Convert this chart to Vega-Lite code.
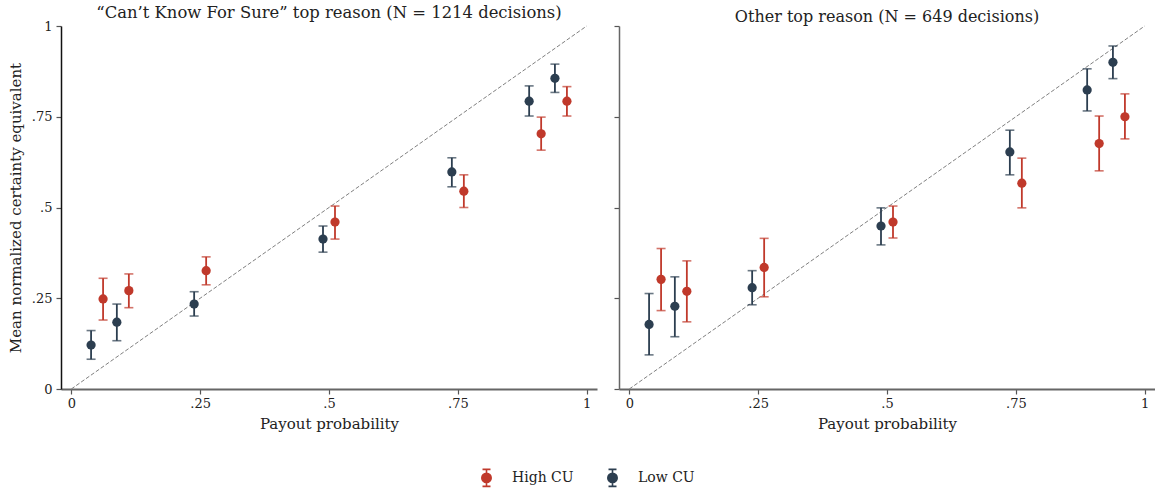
{
  "$schema": "https://vega.github.io/schema/vega-lite/v6.json",
  "padding": {"left": 8, "top": 4, "right": 0, "bottom": 0},
  "config": {
    "font": "DejaVu Serif",
    "view": {"stroke": null},
    "axis": {
      "grid": false,
      "domainColor": "#555",
      "domainWidth": 1.5,
      "tickColor": "#555",
      "tickSize": 5,
      "tickWidth": 1.2,
      "labelFont": "DejaVu Serif",
      "labelFontSize": 13,
      "labelColor": "#222",
      "labelPadding": 3,
      "titleFont": "DejaVu Serif",
      "titleFontSize": 15,
      "titleFontWeight": "normal",
      "titleColor": "#222"
    },
    "title": {"font": "DejaVu Serif", "fontSize": 16, "fontWeight": "normal", "color": "#222", "offset": -1, "anchor": "middle"},
    "legend": {
      "labelFont": "DejaVu Serif",
      "labelFontSize": 14,
      "labelColor": "#222",
      "padding": 0
    }
  },
  "datasets": {
    "pts": [
      {"panel": "A", "group": "Low CU", "p": 0.05, "m": 0.121, "lo": 0.082, "hi": 0.161},
      {"panel": "A", "group": "Low CU", "p": 0.10, "m": 0.184, "lo": 0.133, "hi": 0.234},
      {"panel": "A", "group": "Low CU", "p": 0.25, "m": 0.234, "lo": 0.201, "hi": 0.268},
      {"panel": "A", "group": "Low CU", "p": 0.50, "m": 0.413, "lo": 0.377, "hi": 0.449},
      {"panel": "A", "group": "Low CU", "p": 0.75, "m": 0.598, "lo": 0.557, "hi": 0.637},
      {"panel": "A", "group": "Low CU", "p": 0.90, "m": 0.793, "lo": 0.752, "hi": 0.835},
      {"panel": "A", "group": "Low CU", "p": 0.95, "m": 0.856, "lo": 0.817, "hi": 0.895},
      {"panel": "A", "group": "High CU", "p": 0.05, "m": 0.248, "lo": 0.190, "hi": 0.305},
      {"panel": "A", "group": "High CU", "p": 0.10, "m": 0.271, "lo": 0.224, "hi": 0.317},
      {"panel": "A", "group": "High CU", "p": 0.25, "m": 0.326, "lo": 0.287, "hi": 0.364},
      {"panel": "A", "group": "High CU", "p": 0.50, "m": 0.460, "lo": 0.413, "hi": 0.504},
      {"panel": "A", "group": "High CU", "p": 0.75, "m": 0.545, "lo": 0.500, "hi": 0.590},
      {"panel": "A", "group": "High CU", "p": 0.90, "m": 0.703, "lo": 0.658, "hi": 0.749},
      {"panel": "A", "group": "High CU", "p": 0.95, "m": 0.793, "lo": 0.752, "hi": 0.833},
      {"panel": "B", "group": "Low CU", "p": 0.05, "m": 0.178, "lo": 0.094, "hi": 0.263},
      {"panel": "B", "group": "Low CU", "p": 0.10, "m": 0.228, "lo": 0.144, "hi": 0.309},
      {"panel": "B", "group": "Low CU", "p": 0.25, "m": 0.279, "lo": 0.232, "hi": 0.326},
      {"panel": "B", "group": "Low CU", "p": 0.50, "m": 0.449, "lo": 0.397, "hi": 0.499},
      {"panel": "B", "group": "Low CU", "p": 0.75, "m": 0.653, "lo": 0.590, "hi": 0.713},
      {"panel": "B", "group": "Low CU", "p": 0.90, "m": 0.824, "lo": 0.766, "hi": 0.882},
      {"panel": "B", "group": "Low CU", "p": 0.95, "m": 0.900, "lo": 0.855, "hi": 0.945},
      {"panel": "B", "group": "High CU", "p": 0.05, "m": 0.302, "lo": 0.216, "hi": 0.387},
      {"panel": "B", "group": "High CU", "p": 0.10, "m": 0.269, "lo": 0.185, "hi": 0.353},
      {"panel": "B", "group": "High CU", "p": 0.25, "m": 0.335, "lo": 0.254, "hi": 0.415},
      {"panel": "B", "group": "High CU", "p": 0.50, "m": 0.460, "lo": 0.416, "hi": 0.504},
      {"panel": "B", "group": "High CU", "p": 0.75, "m": 0.567, "lo": 0.499, "hi": 0.636},
      {"panel": "B", "group": "High CU", "p": 0.90, "m": 0.676, "lo": 0.601, "hi": 0.752},
      {"panel": "B", "group": "High CU", "p": 0.95, "m": 0.750, "lo": 0.689, "hi": 0.813}
    ],
    "diag": [{"a": 0, "b": 0}, {"a": 1, "b": 1}]
  },
  "spacing": 16,
  "hconcat": [
    {
      "width": 536,
      "height": 363,
      "title": {"text": "“Can’t Know For Sure” top reason (N = 1214 decisions)", "fontSize": 16.4, "offset": -1},
      "layer": [
        {
          "data": {"name": "diag"},
          "mark": {"type": "line", "color": "#808080", "strokeWidth": 1, "strokeDash": [4, 2]},
          "encoding": {
            "x": {"field": "a", "type": "quantitative", "scale": {"domain": [-0.02, 1.02], "nice": false, "zero": false},
              "axis": {"values": [0, 0.25, 0.5, 0.75, 1], "title": "Payout probability", "domainWidth": 2, "domainColor": "#666", "titlePadding": 6,
                "labelExpr": "datum.value == 0 ? '0' : datum.value == 1 ? '1' : datum.value == 0.25 ? '.25' : datum.value == 0.5 ? '.5' : '.75'"}},
            "y": {"field": "b", "type": "quantitative", "scale": {"domain": [0, 1], "nice": false},
              "axis": {"values": [0, 0.25, 0.5, 0.75, 1], "title": "Mean normalized certainty equivalent", "domainColor": "#111", "titlePadding": 8, "labelPadding": 4,
                "labelExpr": "datum.value == 0 ? '0' : datum.value == 1 ? '1' : datum.value == 0.25 ? '.25' : datum.value == 0.5 ? '.5' : '.75'"}}
          }
        },
        {
          "data": {"name": "pts"},
          "transform": [{"filter": "datum.panel == 'A'"}],
          "layer": [
            {
              "mark": {"type": "rule", "strokeWidth": 1.8, "xOffset": {"expr": "datum.group == 'Low CU' ? -6 : 6"}},
              "encoding": {"x": {"field": "p", "type": "quantitative"}, "y": {"field": "lo", "type": "quantitative"}, "y2": {"field": "hi"}, "color": {"field": "group", "type": "nominal"}}
            },
            {
              "mark": {"type": "tick", "orient": "horizontal", "size": 9, "thickness": 1.6, "xOffset": {"expr": "datum.group == 'Low CU' ? -6 : 6"}},
              "encoding": {"x": {"field": "p", "type": "quantitative"}, "y": {"field": "lo", "type": "quantitative"}, "color": {"field": "group", "type": "nominal"}}
            },
            {
              "mark": {"type": "tick", "orient": "horizontal", "size": 9, "thickness": 1.6, "xOffset": {"expr": "datum.group == 'Low CU' ? -6 : 6"}},
              "encoding": {"x": {"field": "p", "type": "quantitative"}, "y": {"field": "hi", "type": "quantitative"}, "color": {"field": "group", "type": "nominal"}}
            },
            {
              "mark": {"type": "point", "filled": true, "size": 85, "opacity": 1, "xOffset": {"expr": "datum.group == 'Low CU' ? -6 : 6"}},
              "encoding": {"x": {"field": "p", "type": "quantitative"}, "y": {"field": "m", "type": "quantitative"},
                "color": {"field": "group", "type": "nominal", "scale": {"domain": ["High CU", "Low CU"], "range": ["#c0392b", "#2c3e50"]},
                  "legend": {"title": null, "orient": "none", "direction": "horizontal", "legendX": 416, "legendY": 442,
                    "symbolType": "M-0.47,-1H0.47M0,-1V1M-0.47,1H0.47M0.55,0A0.55,0.55,0,1,1,-0.55,0A0.55,0.55,0,1,1,0.55,0Z",
                    "symbolSize": 289, "symbolStrokeWidth": 1.6, "labelOffset": 16, "columnPadding": 29,
                    "symbolOpacity": 1,
                    "encode": {"symbols": {"update": {"stroke": {"scale": "color", "field": "value"}}}}}}}
            }
          ]
        }
      ]
    },
    {
      "width": 536,
      "height": 363,
      "title": {"text": "Other top reason (N = 649 decisions)", "offset": -1},
      "layer": [
        {
          "data": {"name": "diag"},
          "mark": {"type": "line", "color": "#808080", "strokeWidth": 1, "strokeDash": [4, 2]},
          "encoding": {
            "x": {"field": "a", "type": "quantitative", "scale": {"domain": [-0.02, 1.02], "nice": false, "zero": false},
              "axis": {"values": [0, 0.25, 0.5, 0.75, 1], "title": "Payout probability", "domainWidth": 2, "domainColor": "#666", "titlePadding": 6,
                "labelExpr": "datum.value == 0 ? '0' : datum.value == 1 ? '1' : datum.value == 0.25 ? '.25' : datum.value == 0.5 ? '.5' : '.75'"}},
            "y": {"field": "b", "type": "quantitative", "scale": {"domain": [0, 1], "nice": false},
              "axis": {"values": [0, 0.25, 0.5, 0.75, 1], "title": null, "labels": false, "domainColor": "#666"}}
          }
        },
        {
          "data": {"name": "pts"},
          "transform": [{"filter": "datum.panel == 'B'"}],
          "layer": [
            {
              "mark": {"type": "rule", "strokeWidth": 1.8, "xOffset": {"expr": "datum.group == 'Low CU' ? -6 : 6"}},
              "encoding": {"x": {"field": "p", "type": "quantitative"}, "y": {"field": "lo", "type": "quantitative"}, "y2": {"field": "hi"}, "color": {"field": "group", "type": "nominal"}}
            },
            {
              "mark": {"type": "tick", "orient": "horizontal", "size": 9, "thickness": 1.6, "xOffset": {"expr": "datum.group == 'Low CU' ? -6 : 6"}},
              "encoding": {"x": {"field": "p", "type": "quantitative"}, "y": {"field": "lo", "type": "quantitative"}, "color": {"field": "group", "type": "nominal"}}
            },
            {
              "mark": {"type": "tick", "orient": "horizontal", "size": 9, "thickness": 1.6, "xOffset": {"expr": "datum.group == 'Low CU' ? -6 : 6"}},
              "encoding": {"x": {"field": "p", "type": "quantitative"}, "y": {"field": "hi", "type": "quantitative"}, "color": {"field": "group", "type": "nominal"}}
            },
            {
              "mark": {"type": "point", "filled": true, "size": 85, "opacity": 1, "xOffset": {"expr": "datum.group == 'Low CU' ? -6 : 6"}},
              "encoding": {"x": {"field": "p", "type": "quantitative"}, "y": {"field": "m", "type": "quantitative"},
                "color": {"field": "group", "type": "nominal"}}
            }
          ]
        }
      ]
    }
  ]
}
